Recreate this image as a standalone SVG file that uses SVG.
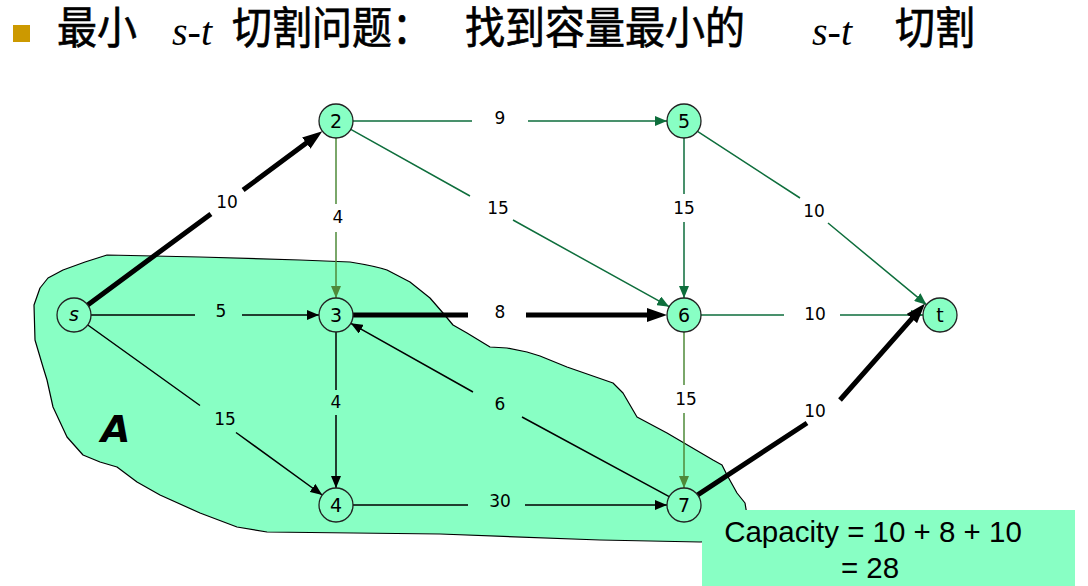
<svg xmlns="http://www.w3.org/2000/svg" width="1088" height="586" viewBox="0 0 1088 586">
<style>
.title{font-family:"Noto Sans CJK SC","Noto Sans",sans-serif;font-size:40px;font-weight:normal;fill:#000;stroke:#000;stroke-width:0.6}
.it{font-family:"Liberation Serif",serif;font-style:italic;font-size:40px;fill:#000}
.lbl{font-family:"DejaVu Sans","Liberation Sans",sans-serif;font-size:17px;fill:#000;text-anchor:middle}
.nt{font-family:"DejaVu Sans","Liberation Sans",sans-serif;font-size:19px;fill:#000;text-anchor:middle}
.node{fill:#88FFC4;stroke:#222;stroke-width:1.3}
.e{fill:none;stroke:#000;stroke-width:1.5}
.g{fill:none;stroke:#0E6E3C;stroke-width:1.5}
.o{fill:none;stroke:#4F8A3A;stroke-width:1.5}
.k{fill:none;stroke:#000;stroke-width:5}
.cap{font-family:"Liberation Sans",sans-serif;font-size:29.5px;fill:#000}
</style>
<defs>
<marker id="ab" markerUnits="userSpaceOnUse" markerWidth="12" markerHeight="10" refX="12" refY="5" orient="auto"><path d="M0,0 L12,5 L0,10 z" fill="#000"/></marker>
<marker id="ag" markerUnits="userSpaceOnUse" markerWidth="12" markerHeight="10" refX="12" refY="5" orient="auto"><path d="M0,0 L12,5 L0,10 z" fill="#0E6E3C"/></marker>
<marker id="ao" markerUnits="userSpaceOnUse" markerWidth="12" markerHeight="10" refX="12" refY="5" orient="auto"><path d="M0,0 L12,5 L0,10 z" fill="#4F8A3A"/></marker>
<marker id="ak" markerUnits="userSpaceOnUse" markerWidth="20" markerHeight="14" refX="11" refY="7" orient="auto"><path d="M0,0 L20,7 L0,14 z" fill="#000"/></marker>
</defs>
<rect width="1088" height="586" fill="#fff"/>
<g id="title">
<rect x="13" y="25" width="17" height="17" fill="#CC9900"/>
<g transform="translate(0,44) scale(1,1.12) translate(0,-44)">
<text class="title" x="57" y="44">最小</text>
<text class="title" x="232" y="44">切割问题：</text>
<text class="title" x="465" y="44">找到容量最小的</text>
<text class="title" x="895" y="44">切割</text>
</g>
<text class="it" x="172" y="45">s-t</text>
<text class="it" x="812" y="45">s-t</text>
</g>
<g id="regionA">
<path d="M107,255 L200,257 L300,260 L350,262 Q375,266 387,270 L410,282 L430,298 L443,313 L453,325 L467,333 L490,347 L507,348 L527,352 L540,356 L567,367 L613,383 L623,393 L637,417 L667,433 L713,460 L722,465 L727,475 L737,493 L745,503 L747,515 L745,540 L700,542 L600,540 L440,534 L267,532 L237,527 L200,513 L160,495 L137,482 L117,467 L100,462 L83,455 L67,437 L53,407 L47,380 L43,367 L35,340 L34,305 L40,288 L48,278 L63,270 L85,262 Z" fill="#88FFC4" stroke="#000" stroke-width="1.2" stroke-linejoin="round"/>
<text x="101" y="442" font-family="DejaVu Sans, sans-serif" font-size="38" font-style="italic" font-weight="bold" fill="#000">A</text>
</g>
<g id="connectors">
<path class="k" d="M87.7,304.9 L210.9,213.9 M243.1,190.1 L315.1,136.5" marker-end="url(#ak)"/>
<path class="g" d="M353,121 L472,121 M528,121 L667,121" marker-end="url(#ag)"/>
<path class="o" d="M336,138 L336,204 M336,232 L336,298" marker-end="url(#ao)"/>
<path class="g" d="M350.8,129.3 L470,196 M513,220 L669.2,306.7" marker-end="url(#ag)"/>
<path class="g" d="M684,138 L684,194 M684,222 L684,298" marker-end="url(#ag)"/>
<path class="g" d="M697.5,131.3 L800,198 M828,223 L926.5,304.7" marker-end="url(#ag)"/>
<path class="e" d="M91,315 L195,315 M242,315 L319,315" marker-end="url(#ab)"/>
<path class="k" d="M353,315 L468,315 M526,315 L658,315" marker-end="url(#ak)"/>
<path class="g" d="M701,315 L784,315 M840,315 L923,315" marker-end="url(#ag)"/>
<path class="e" d="M87.8,325 L200,405.5 M236,432.5 L322.2,495" marker-end="url(#ab)"/>
<path class="e" d="M336,332 L336,390 M336,415 L336,488" marker-end="url(#ab)"/>
<path class="e" d="M669.2,496.7 L522,417 M473,392 L350.8,323.3" marker-end="url(#ab)"/>
<path class="o" d="M684,332 L684,385 M684,413 L684,488" marker-end="url(#ao)"/>
<path class="e" d="M353,505 L468,505 M525,505 L667,505" marker-end="url(#ab)"/>
<path class="k" d="M697.7,494.9 L807,423 M840,400 L919.1,310.3" marker-end="url(#ak)"/>
</g>
<g id="labels">
<text class="lbl" x="227" y="208">10</text>
<text class="lbl" x="500" y="124">9</text>
<text class="lbl" x="338" y="223">4</text>
<text class="lbl" x="498" y="214">15</text>
<text class="lbl" x="684" y="214">15</text>
<text class="lbl" x="814" y="217">10</text>
<text class="lbl" x="221" y="317">5</text>
<text class="lbl" x="500" y="318">8</text>
<text class="lbl" x="815" y="320">10</text>
<text class="lbl" x="225" y="425">15</text>
<text class="lbl" x="336" y="408">4</text>
<text class="lbl" x="500" y="410">6</text>
<text class="lbl" x="686" y="405">15</text>
<text class="lbl" x="500" y="507">30</text>
<text class="lbl" x="815" y="417">10</text>
</g>
<g id="node-s"><circle class="node" cx="74" cy="315" r="17"/><text class="nt" x="74" y="321" font-style="italic">s</text></g>
<g id="node-2"><circle class="node" cx="336" cy="121" r="17"/><text class="nt" x="336" y="128">2</text></g>
<g id="node-3"><circle class="node" cx="336" cy="315" r="17"/><text class="nt" x="336" y="322">3</text></g>
<g id="node-4"><circle class="node" cx="336" cy="505" r="17"/><text class="nt" x="336" y="512">4</text></g>
<g id="node-5"><circle class="node" cx="684" cy="121" r="17"/><text class="nt" x="684" y="128">5</text></g>
<g id="node-6"><circle class="node" cx="684" cy="315" r="17"/><text class="nt" x="684" y="322">6</text></g>
<g id="node-7"><circle class="node" cx="684" cy="505" r="17"/><text class="nt" x="684" y="512">7</text></g>
<g id="node-t"><circle class="node" cx="940" cy="315" r="17"/><text class="nt" x="940" y="322">t</text></g>
<g id="capacity">
<rect x="702" y="510" width="373" height="76" fill="#88FFC4"/>
<text class="cap" x="873" y="542" text-anchor="middle">Capacity = 10 + 8 + 10</text>
<text class="cap" x="870" y="578" text-anchor="middle">= 28</text>
</g>
</svg>
